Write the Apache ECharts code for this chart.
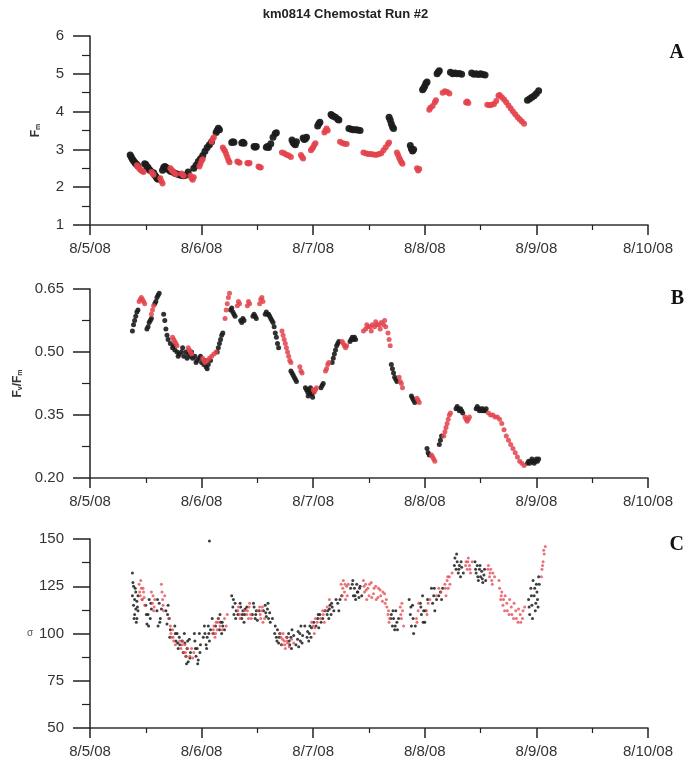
<!DOCTYPE html>
<html>
<head>
<meta charset="utf-8">
<script src="https://cdn.jsdelivr.net/npm/echarts@6/dist/echarts.min.js"></script>
<style>
  html, body { margin: 0; padding: 0; background: #fff; }
  #main { width: 691px; height: 765px; }
</style>
</head>
<body>
<div id="main"></div>
<script>
// x values are days of August 2008 (5 = 8/5/08)
var dayTicks = [5, 6, 7, 8, 9, 10];
var dayLabels = ['8/5/08', '8/6/08', '8/7/08', '8/8/08', '8/9/08', '8/10/08'];

// Panel A: Fm
var fmBlack = [
  [5.36,2.85],[5.37,2.8],[5.38,2.74],[5.39,2.7],[5.40,2.66],[5.41,2.62],[5.42,2.6],[5.43,2.56],
  [5.49,2.62],[5.50,2.6],[5.51,2.55],[5.52,2.52],[5.53,2.47],[5.54,2.44],
  [5.57,2.38],[5.58,2.32],[5.59,2.28],[5.60,2.24],[5.61,2.21],
  [5.65,2.45],[5.66,2.52],[5.67,2.55],[5.68,2.53],[5.69,2.5],[5.70,2.47],
  [5.72,2.42],[5.74,2.4],[5.76,2.37],[5.78,2.35],[5.80,2.33],[5.82,2.31],[5.84,2.3],[5.86,2.32],[5.88,2.4],
  [5.93,2.5],[5.95,2.58],[5.97,2.68],[5.99,2.75],[6.01,2.84],[6.03,2.95],[6.05,3.05],[6.07,3.12],[6.09,3.2],
  [6.13,3.45],[6.14,3.5],[6.15,3.56],[6.16,3.52],
  [6.27,3.18],[6.28,3.2],[6.29,3.19],
  [6.36,3.17],[6.37,3.19],[6.38,3.16],
  [6.47,3.08],[6.48,3.06],[6.49,3.08],
  [6.58,3.06],[6.59,3.08],[6.60,3.05],[6.62,3.15],[6.64,3.32],[6.66,3.42],[6.67,3.44],
  [6.81,3.25],[6.82,3.18],[6.83,3.15],[6.84,3.12],[6.85,3.2],
  [6.91,3.3],[6.92,3.26],[6.93,3.28],[6.94,3.32],
  [7.04,3.62],[7.05,3.68],[7.06,3.72],
  [7.16,3.92],[7.17,3.9],[7.18,3.88],[7.20,3.85],[7.22,3.8],[7.23,3.78],
  [7.32,3.55],[7.34,3.53],[7.36,3.52],[7.38,3.52],[7.40,3.51],[7.42,3.5],
  [7.68,3.85],[7.69,3.78],[7.70,3.68],[7.71,3.6],[7.72,3.55],
  [7.87,3.1],[7.88,3.02],[7.89,2.96],[7.90,3.0],
  [7.98,4.58],[7.99,4.62],[8.00,4.68],[8.01,4.75],[8.02,4.78],
  [8.11,5.0],[8.12,5.05],[8.13,5.08],
  [8.23,5.04],[8.25,5.0],[8.27,5.02],[8.29,5.0],[8.31,5.01],[8.33,4.99],
  [8.42,5.02],[8.44,4.99],[8.46,5.0],[8.48,4.98],[8.50,5.0],[8.52,4.98],[8.54,4.97],
  [8.92,4.3],[8.94,4.34],[8.96,4.38],[8.98,4.42],[9.00,4.48],[9.02,4.55]
];
var fmRed = [
  [5.42,2.58],[5.43,2.55],[5.44,2.5],[5.45,2.46],[5.46,2.44],[5.47,2.42],[5.48,2.4],
  [5.55,2.4],[5.56,2.36],[5.57,2.33],
  [5.63,2.24],[5.64,2.16],[5.65,2.1],
  [5.72,2.5],[5.73,2.46],[5.74,2.42],[5.75,2.4],[5.76,2.36],[5.77,2.34],
  [5.82,2.36],[5.83,2.32],[5.84,2.3],
  [5.90,2.3],[5.91,2.24],[5.92,2.2],[5.93,2.26],
  [5.98,2.55],[5.99,2.62],[6.00,2.7],[6.01,2.74],
  [6.09,3.2],[6.10,3.28],[6.11,3.32],
  [6.19,3.05],[6.20,3.0],[6.21,2.95],[6.22,2.88],[6.23,2.8],[6.24,2.72],[6.25,2.66],
  [6.32,2.68],[6.33,2.66],[6.34,2.65],
  [6.41,2.64],[6.42,2.63],[6.43,2.64],
  [6.51,2.55],[6.52,2.53],[6.53,2.52],
  [6.72,2.92],[6.74,2.9],[6.76,2.86],[6.78,2.84],[6.80,2.8],
  [6.89,2.85],[6.90,2.8],[6.91,2.76],
  [6.98,2.98],[6.99,3.02],[7.00,3.06],[7.01,3.12],[7.02,3.16],
  [7.10,3.45],[7.11,3.5],[7.12,3.55],[7.13,3.5],
  [7.24,3.2],[7.26,3.17],[7.28,3.15],[7.30,3.14],
  [7.45,2.92],[7.47,2.9],[7.49,2.88],[7.51,2.88],[7.53,2.87],[7.55,2.86],[7.57,2.86],[7.59,2.88],[7.61,2.9],
  [7.63,2.98],[7.65,3.06],[7.67,3.14],[7.68,3.18],
  [7.75,2.92],[7.76,2.86],[7.77,2.78],[7.78,2.72],[7.79,2.66],[7.80,2.62],
  [7.93,2.5],[7.94,2.44],[7.95,2.48],
  [8.04,4.05],[8.05,4.1],[8.07,4.15],[8.09,4.25],[8.10,4.3],
  [8.16,4.5],[8.18,4.54],[8.20,4.52],[8.22,4.48],
  [8.37,4.24],[8.38,4.27],[8.39,4.23],
  [8.56,4.18],[8.58,4.17],[8.60,4.18],[8.62,4.2],[8.64,4.28],[8.66,4.42],[8.67,4.44],
  [8.69,4.38],[8.71,4.32],[8.73,4.25],[8.75,4.16],[8.77,4.08],[8.79,4.0],[8.81,3.93],[8.83,3.86],[8.85,3.8],[8.87,3.74],[8.89,3.68]
];

// Panel B: Fv/Fm
var fvfmBlack = [
  [5.38,0.55],[5.39,0.565],[5.40,0.575],[5.41,0.585],[5.42,0.595],[5.43,0.60],
  [5.51,0.555],[5.52,0.56],[5.53,0.57],[5.54,0.575],[5.55,0.58],
  [5.58,0.615],[5.59,0.62],[5.60,0.63],[5.61,0.635],[5.62,0.64],
  [5.66,0.59],[5.67,0.575],[5.68,0.555],[5.69,0.54],[5.70,0.53],
  [5.72,0.52],[5.74,0.51],[5.76,0.505],[5.78,0.50],[5.80,0.495],[5.82,0.50],[5.84,0.49],[5.86,0.50],[5.88,0.495],
  [5.90,0.49],[5.92,0.485],[5.94,0.49],[5.96,0.48],[5.98,0.485],[6.00,0.475],[6.02,0.47],[6.04,0.465],[6.06,0.47],[6.08,0.48],
  [5.75,0.515],[5.79,0.49],[5.83,0.51],[5.87,0.485],[5.91,0.50],[5.95,0.475],[5.99,0.49],[6.03,0.48],[6.05,0.46],
  [6.14,0.50],[6.15,0.51],[6.16,0.52],[6.17,0.53],[6.18,0.54],[6.19,0.545],
  [6.26,0.60],[6.27,0.605],[6.28,0.595],[6.29,0.59],[6.30,0.585],
  [6.35,0.575],[6.36,0.57],[6.37,0.58],[6.38,0.575],
  [6.46,0.585],[6.47,0.59],[6.48,0.585],[6.49,0.58],
  [6.57,0.59],[6.58,0.595],[6.59,0.59],[6.60,0.59],[6.61,0.585],[6.62,0.58],[6.63,0.575],[6.64,0.57],[6.65,0.56],[6.66,0.545],[6.67,0.535],[6.68,0.52],[6.69,0.51],
  [6.80,0.455],[6.81,0.45],[6.82,0.445],[6.83,0.44],[6.84,0.435],[6.85,0.43],
  [6.93,0.415],[6.94,0.41],[6.95,0.405],[6.96,0.41],[6.97,0.40],[6.98,0.405],[6.99,0.40],[7.00,0.405],
  [6.955,0.395],[6.975,0.415],[6.995,0.392],
  [7.07,0.415],[7.08,0.42],[7.09,0.425],
  [7.17,0.475],[7.18,0.485],[7.19,0.495],[7.20,0.505],[7.21,0.515],[7.22,0.52],[7.23,0.525],
  [7.33,0.525],[7.34,0.53],[7.35,0.535],[7.36,0.53],[7.37,0.535],[7.38,0.53],
  [7.70,0.47],[7.71,0.46],[7.72,0.45],[7.73,0.44],[7.74,0.435],[7.75,0.43],
  [7.88,0.395],[7.89,0.39],[7.90,0.385],[7.91,0.38],
  [8.02,0.27],[8.03,0.26],[8.04,0.255],
  [8.13,0.28],[8.14,0.29],[8.15,0.30],
  [8.28,0.365],[8.29,0.37],[8.30,0.365],[8.31,0.36],[8.32,0.365],[8.33,0.36],[8.34,0.355],
  [8.46,0.365],[8.47,0.37],[8.48,0.365],[8.49,0.36],[8.50,0.365],[8.51,0.36],[8.52,0.365],[8.53,0.36],[8.54,0.36],[8.55,0.365],
  [8.92,0.235],[8.93,0.24],[8.94,0.235],[8.95,0.24],[8.96,0.245],[8.97,0.24],[8.98,0.235],[8.99,0.24],[9.00,0.245],[9.01,0.24],[9.02,0.245]
];
var fvfmRed = [
  [5.44,0.62],[5.45,0.625],[5.46,0.63],[5.47,0.625],[5.48,0.62],[5.49,0.615],
  [5.55,0.59],[5.56,0.60],[5.57,0.61],
  [5.63,0.66],[5.64,0.675],[5.645,0.69],[5.65,0.67],[5.66,0.66],
  [5.74,0.535],[5.75,0.53],[5.76,0.525],[5.77,0.52],[5.78,0.515],
  [5.88,0.51],[5.89,0.505],[5.90,0.50],[5.91,0.495],
  [6.01,0.485],[6.02,0.48],[6.03,0.475],[6.05,0.48],[6.07,0.485],[6.09,0.49],[6.11,0.495],[6.13,0.50],
  [6.21,0.58],[6.22,0.60],[6.23,0.615],[6.24,0.63],[6.25,0.64],
  [6.32,0.61],[6.33,0.62],[6.34,0.615],
  [6.41,0.61],[6.42,0.62],[6.43,0.615],
  [6.52,0.615],[6.53,0.625],[6.54,0.63],[6.55,0.62],
  [6.72,0.55],[6.73,0.54],[6.74,0.53],[6.75,0.52],[6.76,0.51],[6.77,0.50],[6.78,0.49],[6.79,0.48],[6.80,0.475],
  [6.88,0.465],[6.89,0.455],[6.90,0.45],
  [7.00,0.41],[7.01,0.405],[7.02,0.41],[7.03,0.415],
  [7.11,0.455],[7.12,0.46],[7.13,0.47],[7.14,0.475],
  [7.26,0.525],[7.27,0.52],[7.28,0.515],[7.29,0.51],[7.30,0.515],
  [7.45,0.55],[7.47,0.555],[7.49,0.56],[7.51,0.56],[7.53,0.565],[7.55,0.56],[7.57,0.565],[7.59,0.565],[7.61,0.57],[7.63,0.565],[7.65,0.56],[7.67,0.545],[7.68,0.53],[7.69,0.515],
  [7.48,0.565],[7.52,0.55],[7.56,0.572],[7.60,0.555],[7.64,0.575],
  [7.77,0.44],[7.78,0.43],[7.79,0.425],[7.80,0.415],
  [7.93,0.39],[7.94,0.385],[7.95,0.38],
  [8.06,0.255],[8.07,0.25],[8.08,0.245],[8.09,0.24],
  [8.17,0.30],[8.18,0.31],[8.19,0.32],[8.20,0.33],[8.21,0.34],[8.22,0.35],[8.23,0.355],
  [8.36,0.345],[8.37,0.34],[8.38,0.335],[8.39,0.34],[8.40,0.345],
  [8.57,0.355],[8.59,0.35],[8.61,0.35],[8.63,0.345],[8.65,0.345],[8.67,0.34],[8.69,0.33],
  [8.71,0.315],[8.73,0.30],[8.75,0.29],[8.77,0.28],[8.79,0.27],[8.81,0.26],[8.83,0.25],[8.85,0.24],[8.87,0.235],[8.89,0.23]
];

// Panel C: sigma
var sigmaBlack = [
  [5.38,132],[5.38,120],[5.39,115],[5.39,125],[5.40,118],[5.40,110],[5.41,122],[5.41,113],[5.42,108],[5.42,117],[5.43,112],[5.43,120],
  [5.385,127],[5.395,108],[5.405,124],[5.415,106],[5.425,114],
  [5.50,115],[5.51,105],[5.52,110],[5.53,118],[5.54,108],[5.55,113],
  [5.505,110],[5.525,104],[5.545,116],
  [5.60,112],[5.61,104],[5.62,116],[5.63,108],[5.64,113],[5.605,118],[5.625,106],
  [5.68,112],[5.69,105],[5.70,115],[5.71,108],[5.72,102],[5.695,110],[5.715,98],
  [5.76,104],[5.77,96],[5.78,100],[5.79,92],[5.80,98],[5.765,100],[5.785,95],[5.805,94],
  [5.85,95],[5.86,88],[5.87,92],[5.88,85],[5.89,97],[5.90,90],
  [5.825,96],[5.835,90],[5.845,100],[5.865,84],[5.875,96],[5.895,87],
  [5.94,96],[5.95,88],[5.96,92],[5.97,86],[5.98,100],[5.99,94],
  [5.935,100],[5.945,92],[5.965,84],[5.985,90],
  [6.03,100],[6.04,94],[6.05,98],[6.06,104],[6.07,96],[6.08,102],[6.07,149],
  [6.015,98],[6.025,104],[6.045,92],[6.065,100],[6.095,108],[6.105,100],
  [6.15,108],[6.16,102],[6.17,106],[6.18,100],[6.19,104],
  [6.125,104],[6.165,110],[6.185,106],[6.205,102],
  [6.27,120],[6.28,114],[6.29,110],[6.30,116],[6.31,112],[6.285,118],[6.305,108],[6.325,110],
  [6.35,114],[6.36,108],[6.37,112],[6.38,106],[6.39,113],[6.345,116],[6.365,110],[6.385,110],[6.405,114],
  [6.47,114],[6.48,108],[6.49,112],[6.50,107],[6.455,110],[6.465,116],[6.485,110],[6.515,112],
  [6.57,115],[6.58,109],[6.59,113],[6.60,108],[6.61,111],[6.555,112],[6.575,111],[6.595,116],[6.615,106],
  [6.66,104],[6.67,98],[6.68,102],[6.69,95],[6.70,100],
  [6.635,108],[6.655,100],[6.675,96],[6.695,98],[6.715,94],
  [6.78,100],[6.79,94],[6.80,98],[6.81,102],[6.765,98],[6.785,96],[6.805,92],[6.825,99],
  [6.86,97],[6.87,93],[6.88,100],[6.89,104],[6.90,95],
  [6.845,94],[6.865,101],[6.885,96],[6.905,99],[6.925,104],
  [6.95,101],[6.96,96],[6.97,104],[6.98,98],[6.945,98],[6.965,100],[6.985,103],[7.005,106],
  [7.04,108],[7.05,103],[7.06,110],[7.07,106],[7.025,104],[7.045,110],[7.085,108],[7.105,112],
  [7.13,112],[7.14,108],[7.15,115],[7.16,110],[7.17,114],
  [7.125,110],[7.145,113],[7.165,116],[7.185,112],[7.205,118],
  [7.22,116],[7.23,112],[7.24,118],[7.255,120],
  [7.35,126],[7.36,120],[7.37,124],[7.38,118],[7.39,126],[7.40,122],[7.41,119],[7.42,125],
  [7.335,124],[7.355,128],[7.375,120],[7.395,122],[7.415,124],[7.435,120],
  [7.70,110],[7.71,104],[7.72,108],[7.73,102],[7.74,112],[7.75,106],
  [7.695,108],[7.715,112],[7.735,104],[7.755,102],[7.765,108],
  [7.86,118],[7.87,110],[7.88,104],[7.89,115],[7.90,100],[7.875,114],[7.895,108],[7.915,104],
  [7.96,116],[7.97,110],[7.98,120],[7.99,112],[8.00,106],[7.965,114],[7.985,106],[8.005,112],[8.025,118],
  [8.06,124],[8.07,116],[8.08,120],[8.09,112],[8.085,124],[8.105,118],[8.125,120],
  [8.14,122],[8.15,118],[8.16,124],
  [8.27,140],[8.28,134],[8.29,138],[8.30,132],[8.31,136],[8.32,130],[8.33,135],
  [8.265,136],[8.285,142],[8.305,134],[8.325,138],[8.345,132],
  [8.45,138],[8.46,132],[8.47,136],[8.48,128],[8.49,134],[8.50,130],[8.51,133],[8.52,127],[8.53,131],
  [8.455,134],[8.475,130],[8.495,136],[8.515,129],[8.535,134],[8.545,128],
  [8.93,118],[8.94,110],[8.95,124],[8.96,115],[8.97,128],[8.98,120],[8.99,112],[9.00,126],[9.01,118],[9.02,130],
  [8.935,114],[8.955,120],[8.965,108],[8.985,124],[8.995,116],[9.005,122],[9.015,114],[9.025,126]
];
var sigmaRed = [
  [5.44,126],[5.45,120],[5.46,124],[5.47,118],[5.48,122],[5.49,115],
  [5.445,122],[5.455,128],[5.465,118],[5.475,124],[5.485,119],
  [5.55,122],[5.56,116],[5.57,112],[5.58,118],[5.565,120],[5.575,114],
  [5.64,126],[5.65,118],[5.66,112],[5.67,120],[5.645,122],[5.655,115],
  [5.72,104],[5.73,98],[5.74,102],[5.75,96],[5.705,108],[5.725,100],[5.745,98],[5.765,94],
  [5.83,96],[5.84,90],[5.85,94],[5.86,88],[5.805,96],[5.815,92],[5.825,94],[5.855,90],[5.875,92],[5.895,88],
  [5.91,92],[5.92,87],[5.93,90],
  [6.10,100],[6.11,104],[6.12,98],[6.13,106],[6.14,102],[6.15,108],
  [6.105,102],[6.125,100],[6.145,106],[6.165,104],[6.185,102],[6.205,108],
  [6.22,104],[6.23,110],
  [6.33,114],[6.34,110],[6.41,112],[6.42,108],[6.43,116],[6.44,110],
  [6.325,112],[6.345,108],[6.385,112],[6.405,110],[6.425,114],[6.445,108],
  [6.52,114],[6.53,108],[6.54,112],[6.55,106],[6.505,112],[6.525,110],[6.545,114],[6.565,108],
  [6.71,98],[6.72,94],[6.73,100],[6.74,96],[6.75,92],[6.76,98],[6.77,95],
  [6.705,100],[6.725,97],[6.745,94],[6.765,96],[6.785,93],[6.805,97],[6.825,95],
  [7.00,104],[7.01,100],[7.02,108],[6.985,106],[7.015,103],[7.035,106],[7.065,108],
  [7.09,110],[7.10,106],[7.11,112],[7.085,112],[7.125,114],[7.145,118],
  [7.25,126],[7.26,120],[7.27,128],[7.28,122],[7.29,118],[7.30,125],
  [7.265,124],[7.285,126],[7.305,120],[7.315,126],
  [7.45,128],[7.46,122],[7.47,126],[7.48,118],[7.49,124],[7.50,120],[7.52,127],[7.54,121],[7.56,125],[7.58,119],[7.60,123],[7.62,117],[7.64,121],
  [7.455,125],[7.475,123],[7.505,126],[7.525,119],[7.545,124],[7.565,118],[7.585,124],[7.605,120],[7.625,122],[7.645,116],
  [7.66,114],[7.67,110],[7.68,106],[7.655,118],[7.675,112],[7.685,108],
  [7.78,114],[7.79,108],[7.80,112],[7.81,104],[7.785,110],[7.795,116],
  [7.93,106],[7.94,112],[7.925,108],[7.945,116],
  [8.02,110],[8.03,116],[8.015,112],[8.045,118],[8.105,120],[8.125,124],[8.145,122],
  [8.18,126],[8.19,120],[8.20,128],[8.21,124],[8.22,130],[8.185,124],[8.205,130],[8.225,126],[8.245,132],
  [8.37,138],[8.38,134],[8.39,140],[8.40,136],[8.41,132],[8.365,136],[8.385,138],[8.405,134],[8.425,138],
  [8.57,136],[8.58,130],[8.59,134],[8.60,128],[8.61,132],[8.565,134],[8.585,132],[8.605,126],[8.625,130],
  [8.67,124],[8.68,118],[8.69,122],[8.70,115],[8.72,120],[8.74,112],[8.76,118],[8.78,110],[8.80,116],[8.82,108],[8.84,113],[8.86,106],[8.88,112],
  [8.665,128],[8.685,120],[8.705,118],[8.715,112],[8.735,116],[8.755,110],[8.775,114],[8.795,108],[8.815,112],[8.835,106],[8.855,110],[8.875,108],[8.895,114],
  [9.05,134],[9.06,138],[9.07,142],[9.08,146],[9.045,130],[9.055,136],[9.065,144]
];

var BLACK = '#1c1c1c';
var RED = '#e3434b';
var FONT = 'Liberation Sans, Arial, sans-serif';

var myChart = echarts.init(document.getElementById('main'));

function xAxisFor(i) {
  return {
    type: 'value', gridIndex: i, min: 5, max: 10, interval: 1,
    axisLine: { lineStyle: { color: '#333', width: 1.5 } },
    axisTick: { length: 10, lineStyle: { color: '#222', width: 1.5 } },
    minorTick: { show: true, splitNumber: 2, length: 5, lineStyle: { color: '#222', width: 1.2 } },
    splitLine: { show: false },
    axisLabel: {
      color: '#333', fontSize: 15, fontFamily: FONT, margin: 16,
      formatter: function (v) { return dayLabels[dayTicks.indexOf(v)]; }
    }
  };
}

function yAxisFor(i, min, max, interval, name, gap, rot, fmt) {
  return {
    type: 'value', gridIndex: i, min: min, max: max, interval: interval,
    name: name, nameLocation: 'middle', nameGap: gap, nameRotate: rot,
    nameTextStyle: {
      rich: {
        f: { fontSize: 12, fontWeight: 'bold', color: '#333', fontFamily: FONT },
        s: { fontSize: 7, fontWeight: 'bold', color: '#333', fontFamily: FONT, verticalAlign: 'bottom', padding: [6, 0, 0, 0] },
        g: { fontSize: 10, color: '#555', fontFamily: FONT }
      }
    },
    axisLine: { show: true, lineStyle: { color: '#222', width: 1.5 } },
    axisTick: { length: 17, lineStyle: { color: '#222', width: 1.5 } },
    minorTick: { show: true, splitNumber: 2, length: 8, lineStyle: { color: '#222', width: 1.2 } },
    splitLine: { show: false },
    axisLabel: { color: '#333', fontSize: 15, fontFamily: FONT, margin: 26, formatter: fmt }
  };
}

function scatter(i, data, color, size, opacity) {
  return {
    type: 'scatter', xAxisIndex: i, yAxisIndex: i, data: data,
    symbolSize: size, itemStyle: { color: color, opacity: opacity }, silent: true
  };
}

var option = {
  animation: false,
  backgroundColor: '#fff',
  title: [
    { text: 'km0814 Chemostat Run #2', left: 'center', top: 3,
      textStyle: { fontSize: 13, fontWeight: 'bold', color: '#222', fontFamily: FONT } },
    { text: 'A', right: 2, top: 38, textStyle: { fontSize: 20, fontWeight: 'bold', color: '#111', fontFamily: 'Liberation Serif, serif' } },
    { text: 'B', right: 2, top: 284, textStyle: { fontSize: 20, fontWeight: 'bold', color: '#111', fontFamily: 'Liberation Serif, serif' } },
    { text: 'C', right: 2, top: 530, textStyle: { fontSize: 20, fontWeight: 'bold', color: '#111', fontFamily: 'Liberation Serif, serif' } }
  ],
  grid: [
    { left: 90, width: 558, top: 36, height: 189 },
    { left: 90, width: 558, top: 289, height: 189 },
    { left: 90, width: 558, top: 539, height: 189 }
  ],
  xAxis: [xAxisFor(0), xAxisFor(1), xAxisFor(2)],
  yAxis: [
    yAxisFor(0, 1, 6, 1, '{f|F}{s|m}', 48, 90),
    yAxisFor(1, 0.2, 0.65, 0.15, '{f|F}{s|v}{f|/F}{s|m}', 64, 90, function (v) { return v.toFixed(2); }),
    yAxisFor(2, 50, 150, 25, '{g|σ}', 54, 0)
  ],
  series: [
    scatter(0, fmBlack, BLACK, 7, 0.95),
    scatter(0, fmRed, RED, 6, 0.9),
    scatter(1, fvfmBlack, BLACK, 5, 0.9),
    scatter(1, fvfmRed, RED, 5, 0.85),
    scatter(2, sigmaBlack, BLACK, 3, 0.85),
    scatter(2, sigmaRed, RED, 3, 0.75)
  ]
};
myChart.setOption(option, true);
</script>
</body>
</html>
